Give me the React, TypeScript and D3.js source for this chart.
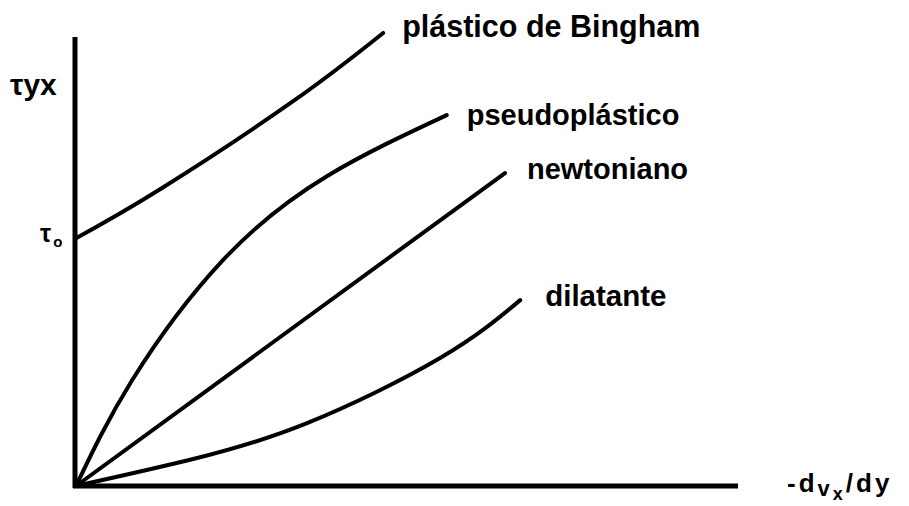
import React, { useEffect, useRef } from 'react';
import * as d3 from 'd3';

// shear rate (x) vs shear stress (y), arbitrary units 0..10
const binghamX = [0, 1.27, 3.28, 4.64];
const binghamY = [5.52, 6.61, 8.57, 10.09];

const pseudoX = [0, 0.85, 2.22, 3.79, 5.6];
const pseudoY = [0, 2.36, 5.03, 6.9, 8.26];

const newtonX = [0, 6.48];
const newtonY = [0, 6.97];

const dilatX = [0, 1.77, 3.49, 5.5, 6.71];
const dilatY = [0, 0.6, 1.4, 2.85, 4.14];

const seriesNames = ['plástico de Bingham', 'pseudoplástico', 'newtoniano', 'dilatante'];

const W = 909;
const H = 506;
const FONT = '"Liberation Sans", Arial, Helvetica, sans-serif';

const App = () => {
    const ref = useRef(null);

    useEffect(() => {
        const svg = d3.select(ref.current);
        svg.selectAll('*').remove();

        const x = d3.scaleLinear().domain([0, 10]).range([76, 738]);
        const y = d3.scaleLinear().domain([0, 10]).range([486, 37]);

        const series = [
            { name: seriesNames[0], xs: binghamX, ys: binghamY, off: [19, 4], size: 30.5 },
            { name: seriesNames[1], xs: pseudoX, ys: pseudoY, off: [20, 10], size: 29 },
            { name: seriesNames[2], xs: newtonX, ys: newtonY, off: [22, 6], size: 29 },
            { name: seriesNames[3], xs: dilatX, ys: dilatY, off: [25, 6], size: 29.5 },
        ];

        // axes
        svg.append('line')
            .attr('x1', x(0) - 1).attr('x2', x(0) - 1)
            .attr('y1', y(10)).attr('y2', y(0) + 2)
            .attr('stroke', '#000').attr('stroke-width', 5);
        svg.append('line')
            .attr('x1', x(0) - 3).attr('x2', x(10))
            .attr('y1', y(0)).attr('y2', y(0))
            .attr('stroke', '#000').attr('stroke-width', 5);

        const line = d3.line()
            .x(d => x(d[0]))
            .y(d => y(d[1]))
            .curve(d3.curveNatural);

        series.forEach(s => {
            const pts = s.xs.map((v, i) => [v, s.ys[i]]);
            svg.append('path')
                .attr('d', line(pts))
                .attr('fill', 'none')
                .attr('stroke', '#000')
                .attr('stroke-width', 4)
                .attr('stroke-linecap', 'round');

            const last = pts[pts.length - 1];
            svg.append('text')
                .attr('x', x(last[0]) + s.off[0])
                .attr('y', y(last[1]) + s.off[1])
                .attr('font-family', FONT)
                .attr('font-weight', 'bold')
                .attr('font-size', s.size)
                .attr('fill', '#000')
                .text(s.name);
        });

        // y axis label
        svg.append('text')
            .attr('x', 10).attr('y', 95)
            .attr('font-family', FONT)
            .attr('font-weight', 'bold')
            .attr('font-size', 30)
            .text('τyx');

        // yield stress
        const t0 = svg.append('text')
            .attr('x', 40).attr('y', y(binghamY[0]) + 4)
            .attr('font-family', FONT)
            .attr('font-weight', 'bold')
            .attr('font-size', 25);
        t0.append('tspan').text('τ');
        t0.append('tspan').attr('font-size', 15).attr('dy', 5).attr('dx', 2).text('o');

        // x axis label
        const xl = svg.append('text')
            .attr('x', 787).attr('y', 492)
            .attr('font-family', FONT)
            .attr('font-weight', 'bold')
            .attr('font-size', 26)
            .attr('letter-spacing', 3);
        xl.append('tspan').text('-d');
        xl.append('tspan').attr('font-size', 22).attr('dy', 4).text('v');
        xl.append('tspan').attr('font-size', 18).attr('dy', 4).text('x');
        xl.append('tspan').attr('dy', -8).text('/dy');
    }, []);

    return (
        <svg
            ref={ref}
            width={W}
            height={H}
            style={{ position: 'absolute', left: 0, top: 0, background: '#fff' }}
        />
    );
};

export default App;
